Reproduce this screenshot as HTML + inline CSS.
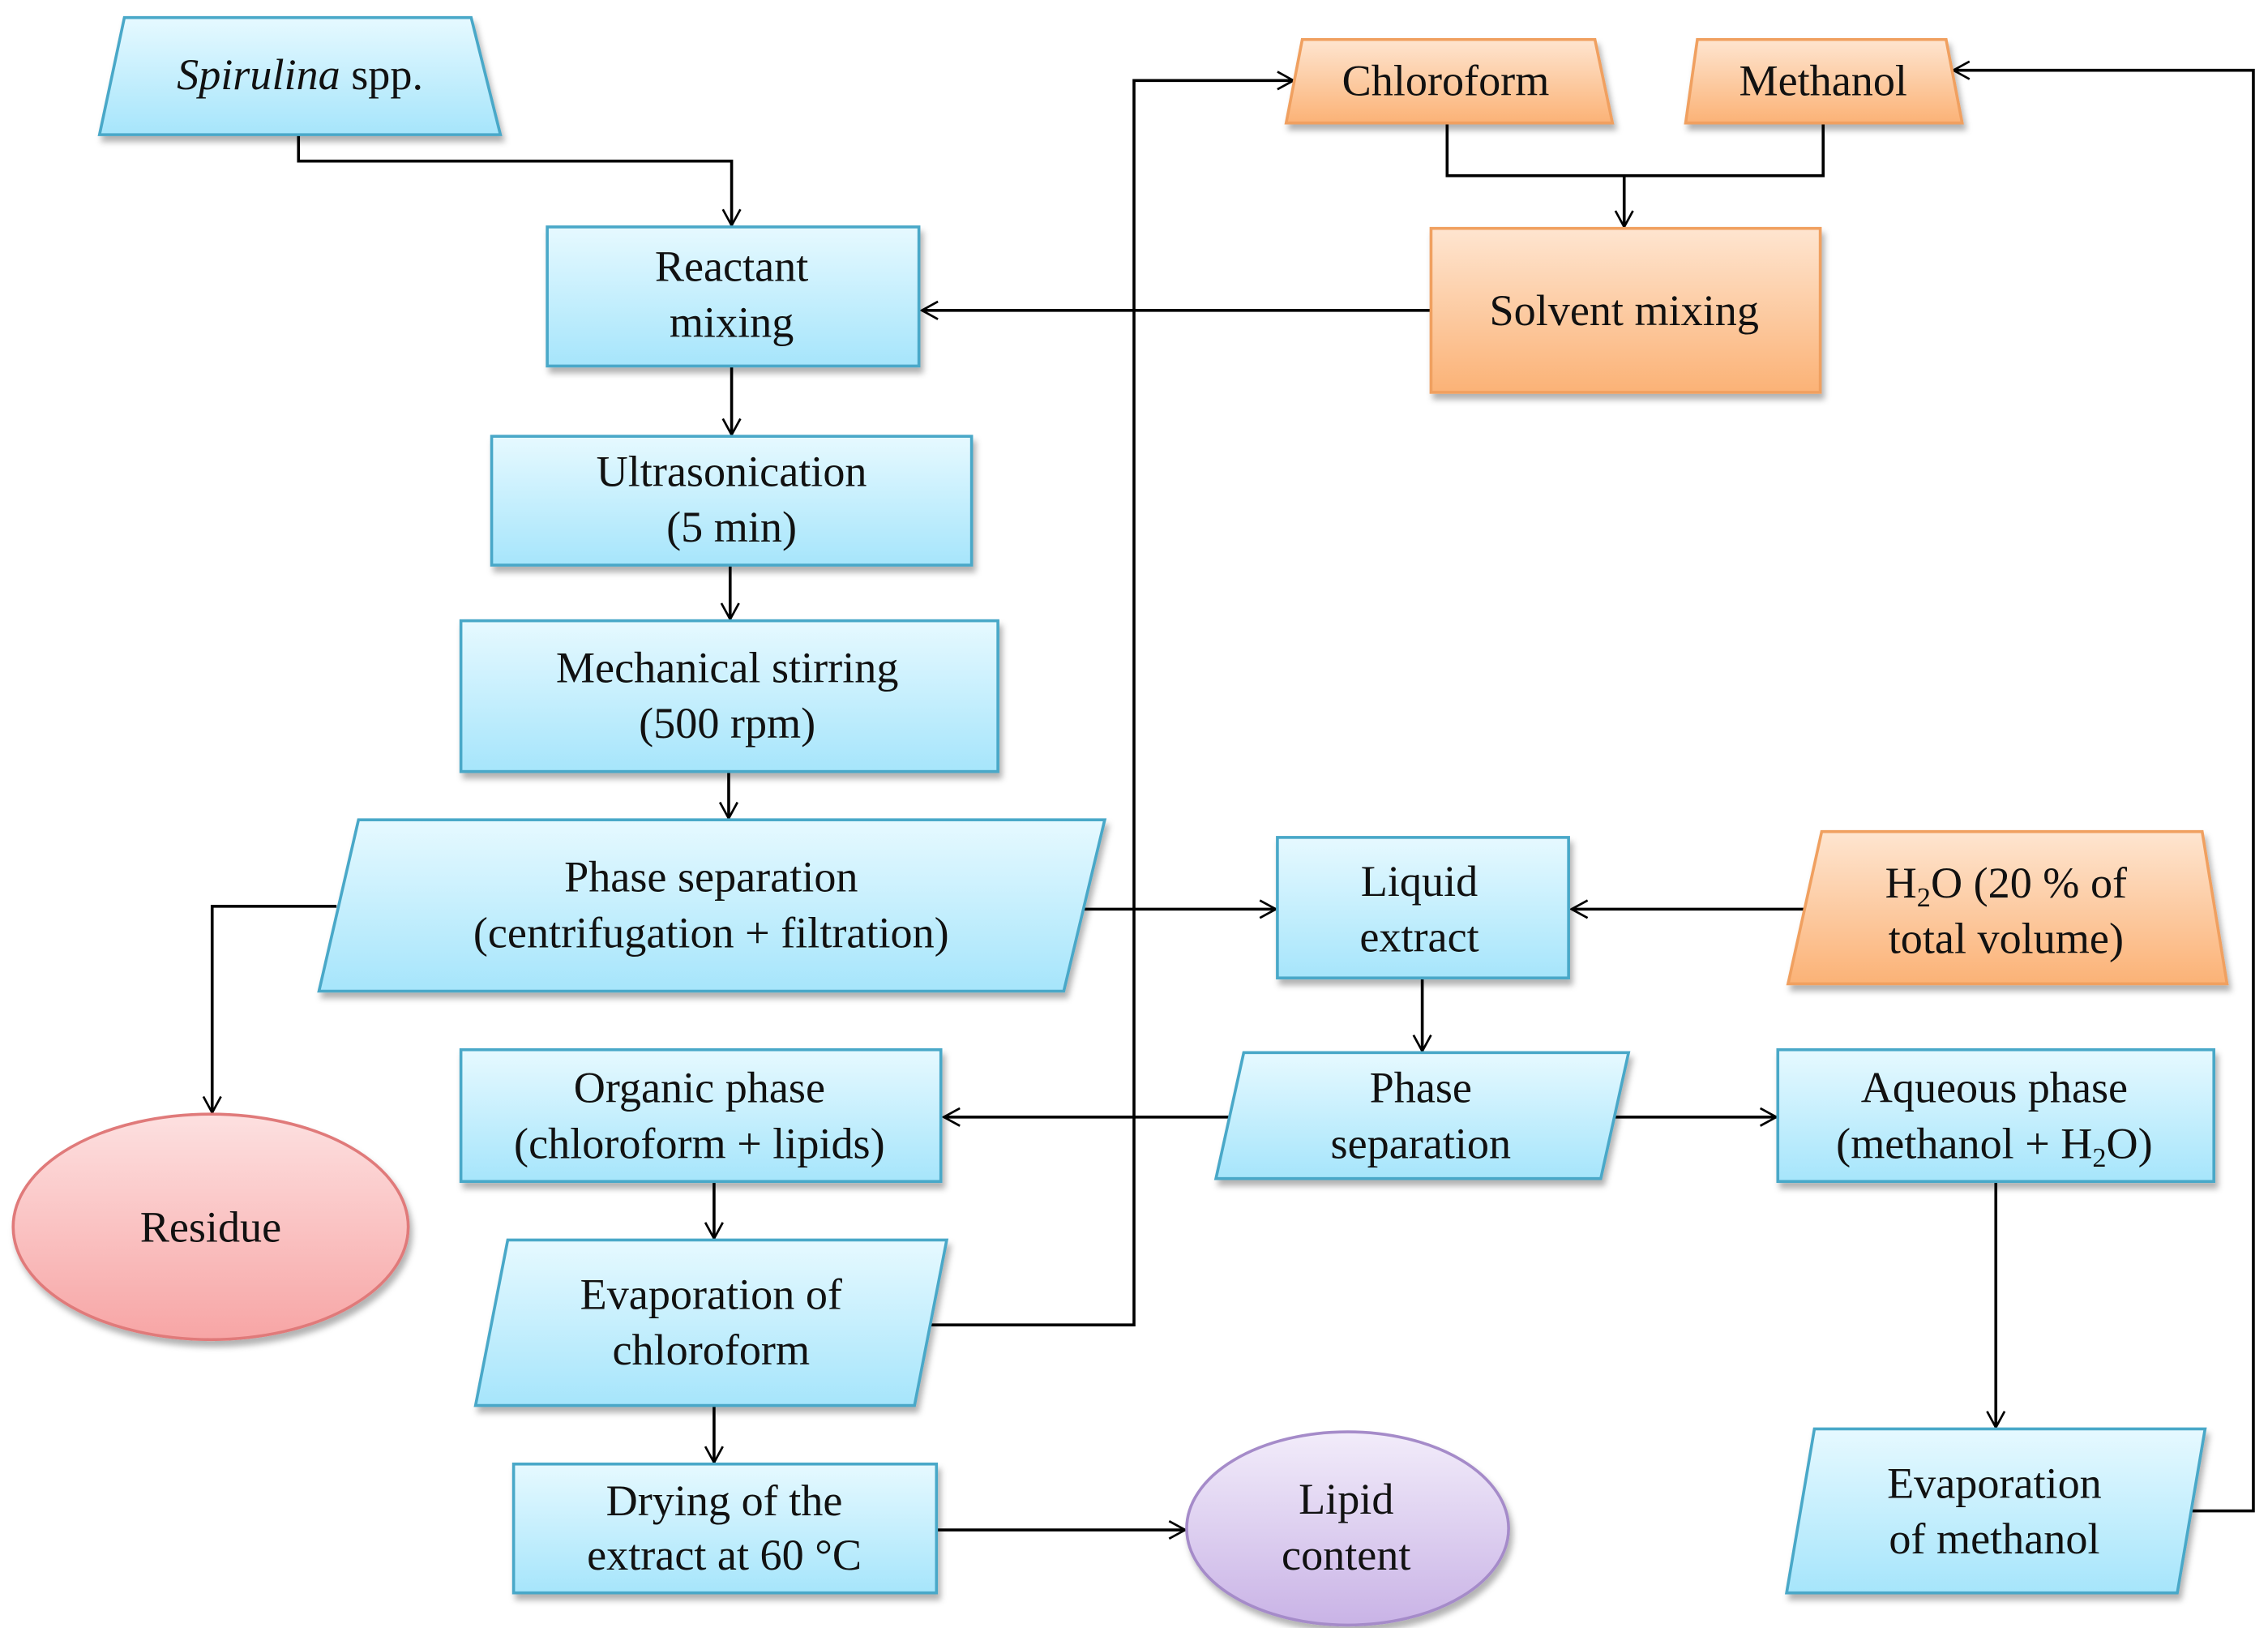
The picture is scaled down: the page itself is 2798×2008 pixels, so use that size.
<!DOCTYPE html>
<html><head><meta charset="utf-8"><style>html,body{margin:0;padding:0;background:#fff}svg{display:block}</style></head><body>
<svg width="2798" height="2008" viewBox="0 0 1550 1112" preserveAspectRatio="none" xmlns="http://www.w3.org/2000/svg">
<defs>
<linearGradient id="b" x1="0" y1="0" x2="0" y2="1"><stop offset="0" stop-color="#e6f9ff"/><stop offset="1" stop-color="#a6e5fb"/></linearGradient>
<linearGradient id="o" x1="0" y1="0" x2="0" y2="1"><stop offset="0" stop-color="#fee5d0"/><stop offset="1" stop-color="#fbb276"/></linearGradient>
<linearGradient id="r" x1="0" y1="0" x2="0" y2="1"><stop offset="0" stop-color="#fde0e0"/><stop offset="1" stop-color="#f7a5a5"/></linearGradient>
<linearGradient id="p" x1="0" y1="0" x2="0" y2="1"><stop offset="0" stop-color="#f2ecfa"/><stop offset="1" stop-color="#c9b3e6"/></linearGradient>
<filter id="s" x="-10%" y="-10%" width="130%" height="140%"><feDropShadow dx="2" dy="4" stdDeviation="2" flood-color="#000" flood-opacity="0.3"/></filter>
<marker id="a" markerWidth="14" markerHeight="14" refX="12" refY="7" orient="auto" markerUnits="userSpaceOnUse"><path d="M1,1 L12,7 L1,13" fill="none" stroke="#000" stroke-width="1.5"/></marker>
</defs>
<g stroke="#000" stroke-width="2" fill="none" marker-end="url(#a)">
<path d="M204,92 V110 H500 V154"/>
<path d="M500,250 V297"/>
<path d="M499,386 V423"/>
<path d="M498,527 V559"/>
<path d="M978,212 H630"/>
<path d="M1110,120 V155"/>
<path d="M740,621 H872"/>
<path d="M230,619 H145 V760"/>
<path d="M1235,621 H1074"/>
<path d="M972,668 V718"/>
<path d="M843,763 H645"/>
<path d="M1102,763 H1214"/>
<path d="M488,807 V846"/>
<path d="M635,905 H775 V55 H884"/>
<path d="M488,960 V999"/>
<path d="M640,1045 H810"/>
<path d="M1364,807 V975"/>
<path d="M1495,1032 H1540 V48 H1335"/>
</g>
<path d="M989,84 V120 H1246 V84" stroke="#000" stroke-width="2" fill="none"/>
<g filter="url(#s)" stroke-width="2">
<polygon points="85,12 322,12 342,92 68,92" fill="url(#b)" stroke="#4aa8c8"/>
<rect x="374" y="155" width="254" height="95" fill="url(#b)" stroke="#4aa8c8"/>
<rect x="336" y="298" width="328" height="88" fill="url(#b)" stroke="#4aa8c8"/>
<rect x="315" y="424" width="367" height="103" fill="url(#b)" stroke="#4aa8c8"/>
<polygon points="245,560 755,560 727,677 218,677" fill="url(#b)" stroke="#4aa8c8"/>
<ellipse cx="144" cy="838" rx="135" ry="77" fill="url(#r)" stroke="#e07a7a"/>
<rect x="315" y="717" width="328" height="90" fill="url(#b)" stroke="#4aa8c8"/>
<polygon points="347,847 647,847 625,960 325,960" fill="url(#b)" stroke="#4aa8c8"/>
<rect x="351" y="1000" width="289" height="88" fill="url(#b)" stroke="#4aa8c8"/>
<ellipse cx="921" cy="1044" rx="110" ry="66" fill="url(#p)" stroke="#a58bc9"/>
<polygon points="890,27 1090,27 1102,84 879,84" fill="url(#o)" stroke="#f0a060"/>
<polygon points="1160,27 1330,27 1341,84 1152,84" fill="url(#o)" stroke="#f0a060"/>
<rect x="978" y="156" width="266" height="112" fill="url(#o)" stroke="#f0a060"/>
<rect x="873" y="572" width="199" height="96" fill="url(#b)" stroke="#4aa8c8"/>
<polygon points="1245,568 1505,568 1522,672 1222,672" fill="url(#o)" stroke="#f0a060"/>
<polygon points="850,719 1113,719 1094,805 831,805" fill="url(#b)" stroke="#4aa8c8"/>
<rect x="1215" y="717" width="298" height="90" fill="url(#b)" stroke="#4aa8c8"/>
<polygon points="1240,976 1507,976 1488,1088 1221,1088" fill="url(#b)" stroke="#4aa8c8"/>
</g>
<g font-family="Liberation Serif, serif" font-size="30" text-anchor="middle" fill="#111">
<text x="205" y="61"><tspan font-style="italic">Spirulina</tspan> spp.</text>
<text x="500" y="192">Reactant</text><text x="500" y="230">mixing</text>
<text x="500" y="332">Ultrasonication</text><text x="500" y="370">(5 min)</text>
<text x="497" y="466">Mechanical stirring</text><text x="497" y="504">(500 rpm)</text>
<text x="486" y="609">Phase separation</text><text x="486" y="647">(centrifugation + filtration)</text>
<text x="144" y="848">Residue</text>
<text x="478" y="753">Organic phase</text><text x="478" y="791">(chloroform + lipids)</text>
<text x="486" y="894">Evaporation of</text><text x="486" y="932">chloroform</text>
<text x="495" y="1035">Drying of the</text><text x="495" y="1072">extract at 60 °C</text>
<text x="920" y="1034">Lipid</text><text x="920" y="1072">content</text>
<text x="988" y="65">Chloroform</text>
<text x="1246" y="65">Methanol</text>
<text x="1110" y="222">Solvent mixing</text>
<text x="970" y="612">Liquid</text><text x="970" y="650">extract</text>
<text x="1371" y="613">H<tspan font-size="19" dy="6">2</tspan><tspan dy="-6">O (20 % of</tspan></text><text x="1371" y="651">total volume)</text>
<text x="971" y="753">Phase</text><text x="971" y="791">separation</text>
<text x="1363" y="753">Aqueous phase</text><text x="1363" y="791">(methanol + H<tspan font-size="19" dy="6">2</tspan><tspan dy="-6">O)</tspan></text>
<text x="1363" y="1023">Evaporation</text><text x="1363" y="1061">of methanol</text>
</g>
</svg>
</body></html>
